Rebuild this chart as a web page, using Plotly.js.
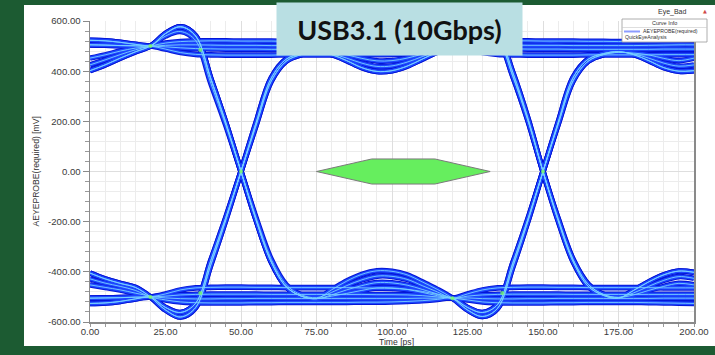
<!DOCTYPE html>
<html><head><meta charset="utf-8">
<script src="https://cdn.plot.ly/plotly-3.0.1.min.js"></script>
<style>
html,body{margin:0;padding:0;width:715px;height:355px;overflow:hidden;background:#1c5b32;}
#panel{position:absolute;left:24px;top:5px;width:691px;height:341px;background:#ffffff;}
#chart{position:absolute;left:0;top:0;width:715px;height:355px;}
</style></head><body>
<div id="panel"></div><div id="chart"></div>
<script>
// ---- time windows (ps) ----
var tS  = [0, 5, 10, 15, 20];
var tE1 = [20, 25, 30, 35, 40, 45, 50, 55, 60, 65, 70, 75];
var tM  = [75, 80, 85, 90, 95, 100, 105, 110, 115, 120];
var tE2 = [120, 125, 130, 135, 140, 145, 150, 155, 160, 165, 170, 175];
var tF  = [175, 180, 185, 190, 195, 200];

// ---- start segments (mV) ----
var S_H1  = [505, 504, 502, 501, 500];
var S_H2  = [523, 521, 515, 507, 500];
var S_Hd1 = [402, 425, 452, 477, 500];
var S_Hd2 = [425, 445, 466, 485, 500];
var S_Hd3 = [452, 465, 480, 492, 500];
var S_L1  = [-505, -504, -503, -501, -500];
var S_L2  = [-526, -524, -518, -508, -500];
var S_Lb1 = [-405, -428, -446, -462, -500];
var S_Lb2 = [-428, -445, -458, -474, -500];
var S_Lb3 = [-452, -462, -472, -485, -500];

// ---- first edge window ----
var E_F1 = [500, 550, 577, 540, 370, 193, 0, -193, -360, -460, -497, -507];
var E_F2 = [500, 540, 558, 522, 352, 183, 0, -185, -350, -452, -492, -503];
var E_R1 = [-500, -552, -580, -542, -372, -192, 0, 195, 372, 448, 470, 478];
var E_R2 = [-500, -542, -562, -525, -355, -183, 0, 185, 360, 440, 466, 475];
var E_HH1 = [500, 512, 518, 520, 521, 521, 520, 520, 520, 519, 519, 518];
var E_HH2 = [500, 497, 493, 490, 489, 488, 488, 488, 487, 487, 487, 487];
var E_HH3 = [500, 488, 474, 467, 465, 464, 464, 464, 464, 465, 465, 465];
var E_HH4 = [500, 503, 505, 505, 504, 503, 503, 503, 502, 502, 502, 502];
var E_LL1 = [-500, -512, -520, -523, -524, -524, -524, -523, -523, -522, -522, -522];
var E_LL2 = [-500, -497, -492, -490, -489, -489, -489, -489, -490, -490, -490, -490];
var E_LL3 = [-500, -488, -472, -464, -462, -461, -461, -462, -462, -463, -463, -463];
var E_LL4 = [-500, -504, -507, -508, -508, -507, -507, -506, -506, -506, -506, -506];

// ---- middle window ----
var M_Lb1 = [-507, -472, -437, -410, -396, -398, -412, -440, -470, -505];
var M_Lb2 = [-503, -482, -455, -432, -417, -418, -430, -455, -480, -505];
var M_Lb3 = [-507, -492, -472, -455, -443, -444, -453, -470, -488, -505];
var M_Lb4 = [-503, -497, -486, -474, -464, -464, -470, -482, -495, -505];
var M_Hd1 = [478, 466, 442, 414, 399, 402, 420, 448, 476, 500];
var M_Hd2 = [475, 469, 452, 432, 419, 421, 436, 458, 480, 500];
var M_Hd3 = [475, 472, 465, 451, 441, 442, 452, 468, 486, 500];
var M_HH1 = [518, 518, 518, 517, 517, 517, 516, 514, 508, 500];
var M_HH2 = [487, 487, 487, 487, 487, 488, 489, 492, 496, 500];
var M_HH3 = [465, 465, 465, 466, 466, 467, 470, 477, 488, 500];
var M_HH4 = [502, 502, 502, 502, 502, 502, 501, 501, 500, 500];
var M_LL1 = [-522, -522, -522, -521, -521, -520, -518, -515, -510, -505];
var M_LL2 = [-490, -490, -490, -490, -491, -491, -492, -495, -500, -505];
var M_LL3 = [-463, -463, -463, -464, -465, -466, -470, -478, -490, -505];
var M_LL4 = [-506, -506, -506, -506, -506, -506, -506, -505, -505, -505];

// ---- second edge window ----
var E2_F1 = [505, 552, 576, 545, 395, 212, 0, -195, -360, -458, -494, -505];
var E2_F2 = [505, 542, 560, 530, 380, 204, 0, -188, -352, -450, -490, -502];
var E2_R1 = [-505, -552, -578, -545, -380, -198, 0, 195, 375, 448, 470, 478];
var E2_R2 = [-505, -542, -562, -530, -365, -190, 0, 188, 362, 440, 466, 475];

// ---- final window ----
var F_Lb1 = [-505, -474, -440, -412, -397, -402];
var F_Lb2 = [-502, -484, -458, -434, -419, -426];
var F_Lb3 = [-505, -492, -474, -458, -446, -452];
var F_Hd1 = [478, 466, 442, 414, 400, 402];
var F_Hd2 = [475, 469, 452, 432, 420, 425];
var F_Hd3 = [475, 472, 465, 451, 442, 452];
var F_HH1 = [518, 518, 519, 520, 521, 523];
var F_HH2 = [487, 487, 487, 488, 488, 488];
var F_HH3 = [465, 465, 465, 466, 466, 466];
var F_HH4 = [502, 502, 503, 504, 505, 505];
var F_LL1 = [-522, -522, -523, -524, -525, -526];
var F_LL2 = [-490, -490, -490, -490, -490, -490];
var F_LL3 = [-463, -463, -463, -464, -464, -464];
var F_LL4 = [-506, -506, -506, -505, -505, -505];

// ---- eye mask ----
var maskT = [75, 93.3, 114.2, 132.5, 114.2, 93.3, 75];
var maskV = [0, 50, 50, 0, -50, -50, 0];

// ---- dense spots ----
var hotT = [20, 20, 36.5, 36.5, 50, 120, 120, 136.5, 136.5, 150];
var hotV = [500, -500, 484, -484, 0, 503, -505, 484, -484, 0];

// ---- ticks ----
var xTickVals = [0, 25, 50, 75, 100, 125, 150, 175, 200];
var xTickText = ['0.00', '25.00', '50.00', '75.00', '100.00', '125.00', '150.00', '175.00', '200.00'];
var yTickVals = [600, 400, 200, 0, -200, -400, -600];
var yTickText = ['600.00', '400.00', '200.00', '0.00', '-200.00', '-400.00', '-600.00'];

var windows = [tS, tE1, tM, tE2, tF];
var waveforms = [
  [S_H1,  E_F1,  M_Lb1, E2_R1, F_Hd1],
  [S_Hd1, E_F2,  M_Lb2, E_LL2, F_LL2],
  [S_Lb1, E_R1,  M_Hd1, E2_F1, F_Lb1],
  [S_L2,  E_R2,  M_Hd2, E_HH2, F_HH2],
  [S_Hd2, E_HH1, M_HH1, E2_F2, F_Lb2],
  [S_H2,  E_HH2, M_HH2, E_HH1, F_HH1],
  [S_Lb2, E_LL1, M_LL1, E2_R2, F_Hd2],
  [S_L1,  E_LL2, M_LL2, E_LL1, F_LL1],
  [S_Hd3, E_F1,  M_Lb3, E2_R2, F_Hd3],
  [S_Lb3, E_R2,  M_Hd3, E2_F2, F_Lb3],
  [S_H1,  E_HH3, M_HH3, E_HH3, F_HH3],
  [S_L1,  E_LL3, M_LL3, E_LL3, F_LL3],
  [S_Lb1, E_R1,  M_Hd1, E_HH4, F_HH4],
  [S_Hd1, E_F1,  M_Lb4, E_LL4, F_LL4],
  [S_H2,  E_HH4, M_HH4, E2_F1, F_Lb1],
  [S_L2,  E_LL4, M_LL4, E2_R1, F_Hd1]
];

function compose(parts){
  var t = [], v = [];
  parts.forEach(function(vals, i){
    var ts = windows[i];
    for (var k = (i === 0 ? 0 : 1); k < ts.length; k++){ t.push(ts[k]); v.push(vals[k]); }
  });
  return {t: t, v: v};
}

var paths = waveforms.map(compose);
var data = [];
var layers = [
  {w: 5.6, c: 'rgb(5,22,215)'},
  {w: 3.6, c: 'rgb(30,72,255)'},
  {w: 0.9, c: 'rgb(120,210,255)'}
];
layers.forEach(function(L){
  paths.forEach(function(p){
    data.push({type: 'scatter', mode: 'lines', x: p.t, y: p.v, hoverinfo: 'skip',
      line: {color: L.c, width: L.w, shape: 'spline', smoothing: 1}, showlegend: false});
  });
});
data.push({type: 'scatter', mode: 'markers', x: hotT, y: hotV, hoverinfo: 'skip', showlegend: false,
  marker: {size: 4, color: 'rgba(120,255,90,0.75)', line: {width: 0}}});
data.push({type: 'scatter', mode: 'lines', x: maskT, y: maskV, fill: 'toself', hoverinfo: 'skip',
  fillcolor: '#66ee5e', line: {color: '#7a7a7a', width: 1}, showlegend: false});

// pixel -> paper helpers for decorations
var L0 = 90, PW = 604, T0 = 21, PH = 301;
function px(x){ return (x - L0) / PW; }
function py(y){ return 1 - (y - T0) / PH; }

var tickFont = {family: 'Liberation Sans, Arial, sans-serif', size: 9.6, color: '#3a3a3a'};
var layout = {
  width: 715, height: 355,
  margin: {l: 90, r: 21, t: 21, b: 33},
  paper_bgcolor: 'rgba(0,0,0,0)', plot_bgcolor: '#ffffff',
  showlegend: false,
  xaxis: {range: [0, 200], tickmode: 'array', tickvals: xTickVals, ticktext: xTickText,
    showgrid: true, gridcolor: '#dedede', gridwidth: 1, zeroline: false,
    showline: true, linecolor: '#8a8a8a', linewidth: 1.5,
    ticks: '', tickfont: tickFont,
    minor: {tickmode: 'linear', tick0: 0, dtick: 5, showgrid: true, gridcolor: '#ececec', gridwidth: 1,
      ticks: 'outside', ticklen: 3, tickcolor: '#9a9a9a'}},
  yaxis: {range: [-600, 600], tickmode: 'array', tickvals: yTickVals, ticktext: yTickText,
    showgrid: true, gridcolor: '#dedede', gridwidth: 1, zeroline: false,
    showline: true, linecolor: '#8a8a8a', linewidth: 1.5, mirror: true,
    ticks: 'outside', ticklen: 6, tickcolor: '#8a8a8a', tickfont: tickFont,
    minor: {tickmode: 'linear', tick0: 0, dtick: 40, showgrid: true, gridcolor: '#ececec', gridwidth: 1,
      ticks: 'outside', ticklen: 4, tickcolor: '#9a9a9a'}},
  shapes: [
    {type: 'rect', xref: 'paper', yref: 'paper', x0: px(622), x1: px(707), y0: py(42), y1: py(19),
      fillcolor: '#ffffff', line: {color: '#9a9a9a', width: 0.8}, layer: 'above'},
    {type: 'line', xref: 'paper', yref: 'paper', x0: px(622), x1: px(707), y0: py(27.5), y1: py(27.5),
      line: {color: '#c8c8c8', width: 0.6}, layer: 'above'},
    {type: 'line', xref: 'paper', yref: 'paper', x0: px(624), x1: px(640), y0: py(31.5), y1: py(31.5),
      line: {color: '#8d9cff', width: 2}, layer: 'above'}
  ],
  annotations: [
    {xref: 'paper', yref: 'paper', x: px(399.5), y: py(29), xanchor: 'center', yanchor: 'middle',
      text: '<b>USB3.1 (10Gbps)</b>', showarrow: false, width: 245, height: 52, borderpad: 0,
      bgcolor: '#b9dfe3', font: {family: 'Lato, Open Sans, sans-serif', size: 27, color: '#111111'}},
    {xref: 'paper', yref: 'paper', x: px(672), y: py(12), xanchor: 'center', yanchor: 'middle',
      text: 'Eye_Bad', showarrow: false, font: {family: 'Liberation Sans, Arial', size: 7, color: '#333'}},
    {xref: 'paper', yref: 'paper', x: px(705.5), y: py(11), xanchor: 'center', yanchor: 'middle',
      text: '▲', showarrow: false, font: {family: 'DejaVu Sans', size: 5, color: '#d04848'}},
    {xref: 'paper', yref: 'paper', x: px(664.5), y: py(23.3), xanchor: 'center', yanchor: 'middle',
      text: 'Curve Info', showarrow: false, font: {family: 'Liberation Sans, Arial', size: 5.5, color: '#333'}},
    {xref: 'paper', yref: 'paper', x: px(641), y: py(31.5), xanchor: 'left', yanchor: 'middle',
      text: 'AEYEPROBE(required)', showarrow: false, font: {family: 'Liberation Sans, Arial', size: 5.2, color: '#333'}},
    {xref: 'paper', yref: 'paper', x: px(623), y: py(37.5), xanchor: 'left', yanchor: 'middle',
      text: 'QuickEyeAnalysis', showarrow: false, font: {family: 'Liberation Sans, Arial', size: 5.2, color: '#333'}},
    {xref: 'paper', yref: 'paper', x: px(35), y: py(171.5), xanchor: 'center', yanchor: 'middle', textangle: -90,
      text: 'AEYEPROBE(required) [mV]', showarrow: false, font: {family: 'Liberation Sans, Arial', size: 8.6, color: '#333'}},
    {xref: 'paper', yref: 'paper', x: px(396), y: py(341.5), xanchor: 'center', yanchor: 'middle',
      text: 'Time [ps]', showarrow: false, font: {family: 'Liberation Sans, Arial', size: 8.6, color: '#333'}}
  ]
};
Plotly.newPlot('chart', data, layout, {staticPlot: true, displayModeBar: false});
</script></body></html>
